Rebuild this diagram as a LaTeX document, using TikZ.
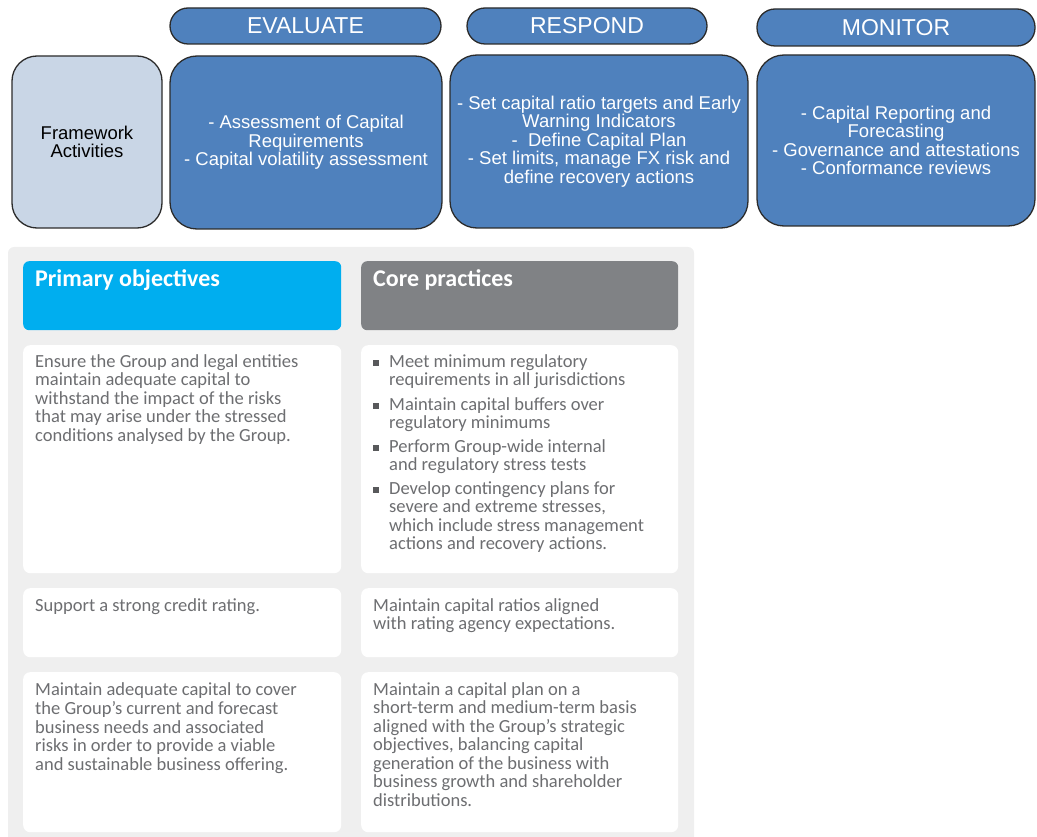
\documentclass[tikz,border=0pt]{standalone}
\usepackage{fontspec}
\setmainfont{Liberation Sans}
\newfontfamily\bodyfont{Carlito}
\usetikzlibrary{calc}
\definecolor{stepblue}{HTML}{4F81BD}
\definecolor{fwfill}{HTML}{C9D6E6}
\definecolor{panelgray}{HTML}{EFEFEF}
\definecolor{cyanhead}{HTML}{00AEEF}
\definecolor{grayhead}{HTML}{808285}
\definecolor{bodytext}{HTML}{6D6E71}
\definecolor{edgedark}{HTML}{2B2B2B}
\definecolor{bulletgray}{HTML}{58595B}
\begin{document}
\begin{tikzpicture}[x=1pt,y=-1pt,
  pill/.style={draw=edgedark, line width=1.3pt, fill=stepblue, rounded corners=18pt,
    text=white, font=\fontsize{23}{24}\selectfont, inner sep=0pt},
  bigbox/.style={draw=edgedark, line width=1.3pt, fill=stepblue, rounded corners=27pt,
    text=white, align=center, font=\fontsize{18.5}{18.5}\selectfont, inner sep=0pt},
  fwbox/.style={bigbox, fill=fwfill, text=black, rounded corners=25pt},
  cell/.style={fill=white, rounded corners=7pt, inner sep=0pt, anchor=north west},
  headcell/.style={cell, rounded corners=6pt},
  headtext/.style={text=white, font=\bodyfont\bfseries\fontsize{24}{26}\selectfont, inner sep=0pt, anchor=base west},
  bodytxt/.style={text=bodytext, font=\bodyfont\fontsize{18.5}{18.5}\selectfont, inner sep=0pt,
    anchor=north west, align=left},
  sqbullet/.style={fill=bulletgray, minimum size=6.5pt, inner sep=0pt},
]
\useasboundingbox (0,0) rectangle (1037,837);

% top phase headers
\node[pill, minimum width=271pt, minimum height=36pt] (evh) at (305.5,26) {EVALUATE};
\node[pill, minimum width=240pt, minimum height=36pt] (reh) at (587,26) {RESPOND};
\node[pill, minimum width=278pt, minimum height=37pt] (moh) at (896,27.5) {MONITOR};

% activity boxes
\node[fwbox, minimum width=150pt, minimum height=172pt] (fw) at (87,142) {Framework\\Activities};
\node[bigbox, minimum width=272pt, minimum height=173pt] (evb) at (306,142.5)
  {- Assessment of Capital\\Requirements\\- Capital volatility assessment};
\node[bigbox, minimum width=298pt, minimum height=173pt] (reb) at (599,141.5)
  {- Set capital ratio targets and Early\\Warning Indicators\\-\ \ Define Capital Plan\\- Set limits, manage FX risk and\\define recovery actions};
\node[bigbox, minimum width=278pt, minimum height=171pt] (mob) at (896,140.5)
  {- Capital Reporting and\\Forecasting\\- Governance and attestations\\- Conformance reviews};

% lower panel
\fill[panelgray] (8,837) {[rounded corners=6pt] -- (8,247) -- (694,247)} -- (694,837) -- cycle;

\node[headcell, fill=cyanhead, minimum width=318pt, minimum height=69pt] (ph) at (23,261) {};
\node[headcell, fill=grayhead, minimum width=317pt, minimum height=69pt] (ch) at (361,261) {};
\node[headtext] (pht) at ($(ph.north west)+(12,26)$) {Primary objectives};
\node[headtext] (cht) at ($(ch.north west)+(12,26)$) {Core practices};

\node[cell, minimum width=318pt, minimum height=228pt] (r1l) at (23,345) {};
\node[cell, minimum width=317pt, minimum height=228pt] (r1r) at (361,345) {};
\node[cell, minimum width=318pt, minimum height=69pt] (r2l) at (23,588) {};
\node[cell, minimum width=317pt, minimum height=69pt] (r2r) at (361,588) {};
\node[cell, minimum width=318pt, minimum height=160pt] (r3l) at (23,672) {};
\node[cell, minimum width=317pt, minimum height=160pt] (r3r) at (361,672) {};

% row 1
\node[bodytxt] (t1l) at ($(r1l.north west)+(12,9)$)
  {\strut Ensure the Group and legal entities\\maintain adequate capital to\\withstand the impact of the risks\\that may arise under the stressed\\conditions analysed by the Group.};

\node[sqbullet] (b1) at (376,363) {};
\node[sqbullet] (b2) at (376,406) {};
\node[sqbullet] (b3) at (376,448) {};
\node[sqbullet] (b4) at (376,490) {};
\node[bodytxt] (t1a) at (389,354) {\strut Meet minimum regulatory\\requirements in all jurisdictions};
\node[bodytxt] (t1b) at (389,397) {\strut Maintain capital buffers over\\regulatory minimums};
\node[bodytxt] (t1c) at (389,439) {\strut Perform Group-wide internal\\and regulatory stress tests};
\node[bodytxt] (t1d) at (389,481) {\strut Develop contingency plans for\\severe and extreme stresses,\\which include stress management\\actions and recovery actions.};

% row 2
\node[bodytxt] (t2l) at ($(r2l.north west)+(12,10)$) {\strut Support a strong credit rating.};
\node[bodytxt] (t2r) at ($(r2r.north west)+(12,10)$) {\strut Maintain capital ratios aligned\\with rating agency expectations.};

% row 3
\node[bodytxt] (t3l) at ($(r3l.north west)+(12,10)$)
  {\strut Maintain adequate capital to cover\\the Group’s current and forecast\\business needs and associated\\risks in order to provide a viable\\and sustainable business offering.};
\node[bodytxt] (t3r) at ($(r3r.north west)+(12,10)$)
  {\strut Maintain a capital plan on a\\short-term and medium-term basis\\aligned with the Group’s strategic\\objectives, balancing capital\\generation of the business with\\business growth and shareholder\\distributions.};
\end{tikzpicture}
\end{document}
